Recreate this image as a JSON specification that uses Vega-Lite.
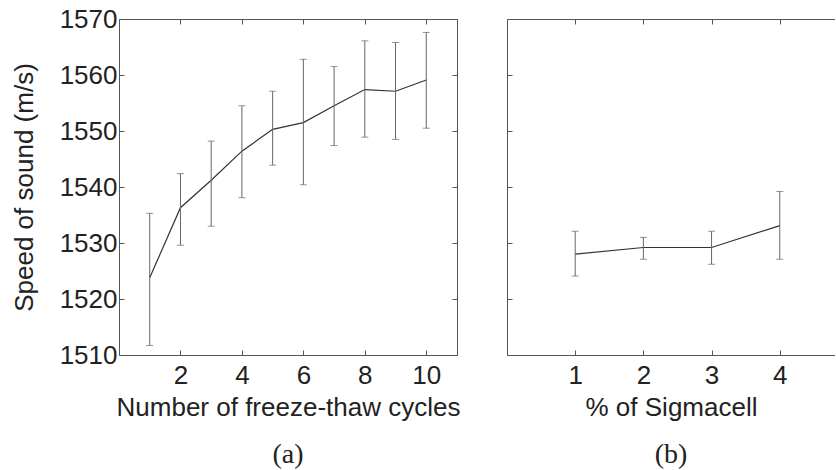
{
  "$schema": "https://vega.github.io/schema/vega-lite/v6.json",
  "padding": {"left": 11, "top": 6, "right": 0, "bottom": 0},
  "background": "white",
  "config": {
    "font": "Liberation Sans",
    "view": {"stroke": null},
    "axis": {
      "domainColor": "#555",
      "tickColor": "#555",
      "labelFont": "Liberation Sans",
      "labelFontSize": 26,
      "labelColor": "#222",
      "titleFont": "Liberation Sans",
      "titleFontSize": 26,
      "titleFontWeight": "normal",
      "titleColor": "#222",
      "grid": false,
      "tickSize": -5,
      "labelPadding": 7,
      "format": "d"
    },
    "title": {"font": "Liberation Serif", "fontSize": 28, "fontWeight": "normal", "color": "#222"}
  },
  "datasets": {
    "freeze": [
      {"cycles": 1, "speed": 1523.8, "lo": 1511.7, "hi": 1535.3},
      {"cycles": 2, "speed": 1536.3, "lo": 1529.6, "hi": 1542.4},
      {"cycles": 3, "speed": 1541.2, "lo": 1533.0, "hi": 1548.2},
      {"cycles": 4, "speed": 1546.4, "lo": 1538.1, "hi": 1554.5},
      {"cycles": 5, "speed": 1550.3, "lo": 1543.9, "hi": 1557.1},
      {"cycles": 6, "speed": 1551.5, "lo": 1540.4, "hi": 1562.8},
      {"cycles": 7, "speed": 1554.5, "lo": 1547.4, "hi": 1561.5},
      {"cycles": 8, "speed": 1557.4, "lo": 1548.9, "hi": 1566.1},
      {"cycles": 9, "speed": 1557.1, "lo": 1548.5, "hi": 1565.8},
      {"cycles": 10, "speed": 1559.1, "lo": 1550.5, "hi": 1567.6}
    ],
    "sigma": [
      {"pct": 1, "speed": 1528.0, "lo": 1524.1, "hi": 1532.1},
      {"pct": 2, "speed": 1529.2, "lo": 1527.1, "hi": 1531.0},
      {"pct": 3, "speed": 1529.2, "lo": 1526.2, "hi": 1532.1},
      {"pct": 4, "speed": 1533.1, "lo": 1527.1, "hi": 1539.2}
    ]
  },
  "bounds": "flush",
  "spacing": 50,
  "hconcat": [
    {
      "width": 338,
      "height": 336,
      "data": {"name": "freeze"},
      "title": {"text": "(a)", "orient": "bottom", "anchor": "middle", "offset": 21},
      "resolve": {"axis": {"x": "independent", "y": "independent"}},
      "layer": [
        {
          "mark": {"type": "line", "color": "#333", "strokeWidth": 1.2},
          "encoding": {
            "x": {"field": "cycles", "type": "quantitative",
                  "scale": {"domain": [0, 11], "nice": false, "zero": false},
                  "axis": {"orient": "bottom", "values": [2, 4, 6, 8, 10], "title": "Number of freeze-thaw cycles", "labelPadding": 12, "titlePadding": 6}},
            "y": {"field": "speed", "type": "quantitative",
                  "scale": {"domain": [1510, 1570], "nice": false, "zero": false},
                  "axis": {"orient": "left", "values": [1510, 1520, 1530, 1540, 1550, 1560, 1570], "title": "Speed of sound (m/s)", "titlePadding": 22}}
          }
        },
        {
          "mark": {"type": "errorbar", "ticks": {"size": 7, "color": "#666"}, "rule": {"color": "#666"}},
          "encoding": {
            "x": {"field": "cycles", "type": "quantitative",
                  "axis": {"orient": "top", "values": [2, 4, 6, 8, 10], "labels": false, "title": null}},
            "y": {"field": "lo", "type": "quantitative",
                  "axis": {"orient": "right", "values": [1510, 1520, 1530, 1540, 1550, 1560, 1570], "labels": false, "title": null}},
            "y2": {"field": "hi"}
          }
        }
      ]
    },
    {
      "width": 328,
      "height": 336,
      "data": {"name": "sigma"},
      "title": {"text": "(b)", "orient": "bottom", "anchor": "middle", "offset": 21},
      "resolve": {"axis": {"x": "independent"}},
      "layer": [
        {
          "mark": {"type": "line", "color": "#333", "strokeWidth": 1.2},
          "encoding": {
            "x": {"field": "pct", "type": "quantitative",
                  "scale": {"domain": [0, 4.81], "nice": false, "zero": false},
                  "axis": {"orient": "bottom", "values": [1, 2, 3, 4], "title": "% of Sigmacell", "labelPadding": 12, "titlePadding": 6}},
            "y": {"field": "speed", "type": "quantitative",
                  "scale": {"domain": [1510, 1570], "nice": false, "zero": false},
                  "axis": {"orient": "left", "values": [1510, 1520, 1530, 1540, 1550, 1560, 1570], "labels": false, "title": null}}
          }
        },
        {
          "mark": {"type": "errorbar", "ticks": {"size": 7, "color": "#666"}, "rule": {"color": "#666"}},
          "encoding": {
            "x": {"field": "pct", "type": "quantitative",
                  "axis": {"orient": "top", "values": [1, 2, 3, 4], "labels": false, "title": null}},
            "y": {"field": "lo", "type": "quantitative"},
            "y2": {"field": "hi"}
          }
        }
      ]
    }
  ]
}
